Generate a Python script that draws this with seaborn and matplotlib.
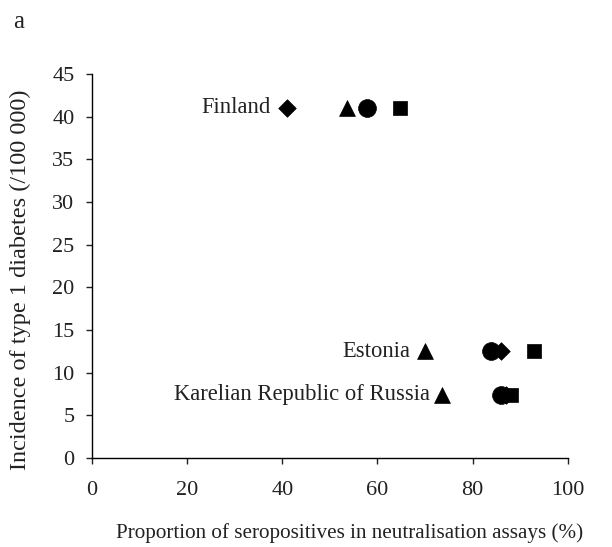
import matplotlib
matplotlib.use("Agg")
import matplotlib.pyplot as plt
import seaborn as sns
import pandas as pd

# Incidence of type 1 diabetes per country and seropositivity by assay
countries = ["Finland", "Estonia", "Karelian Republic of Russia"]
incidence = [41.0, 12.5, 7.4]
assays = ["A", "B", "C", "D"]
assay_markers = {"A": "D", "B": "^", "C": "o", "D": "s"}
seropos = {
    "Finland": [41.0, 53.5, 57.8, 64.8],
    "Estonia": [86.0, 70.0, 83.8, 92.8],
    "Karelian Republic of Russia": [87.0, 73.5, 86.0, 88.0],
}
marker_sizes = {"A": 80, "B": 130, "C": 165, "D": 100}

rows = []
for c, inc in zip(countries, incidence):
    for a, v in zip(assays, seropos[c]):
        rows.append({"country": c, "assay": a, "x": v, "y": inc})
df = pd.DataFrame(rows)

sns.set_theme(style="ticks")
plt.rcParams["font.family"] = ["Liberation Serif", "DejaVu Serif"]
ink = "#222222"

fig = plt.figure(figsize=(6.12, 5.47), dpi=100)
ax = fig.add_axes([0.150, 0.163, 0.778, 0.702])

for a in assays:
    sub = df[df["assay"] == a]
    sns.scatterplot(data=sub, x="x", y="y", marker=assay_markers[a],
                    s=marker_sizes[a], color="black", edgecolor="black",
                    linewidth=0.5, ax=ax, legend=False, zorder=3)

label_x = {"Finland": 37.6, "Estonia": 67.0, "Karelian Republic of Russia": 71.0}
for c, inc in zip(countries, incidence):
    ax.text(label_x[c], inc, c, ha="right", va="center", fontsize=16.3, color=ink)

ax.set_xlim(0, 100)
ax.set_ylim(0, 45)
ax.set_xticks(range(0, 101, 20))
ax.set_yticks(range(0, 46, 5))
ax.tick_params(labelsize=16, direction="out", length=4.5, width=1, colors=ink)
ax.tick_params(axis="x", pad=12)
ax.tick_params(axis="y", pad=8)
ax.set_xlabel("Proportion of seropositives in neutralisation assays (%)", fontsize=15.2,
              color=ink)
ax.set_ylabel("Incidence of type 1 diabetes (/100 000)", fontsize=17.5, color=ink)
ax.xaxis.set_label_coords(0.542, -0.197)
ax.xaxis.label.set_verticalalignment("center")
ax.yaxis.set_label_coords(-0.149, 0.4635)
ax.yaxis.label.set_verticalalignment("center")
for sp in ["top", "right"]:
    ax.spines[sp].set_visible(False)
for sp in ["left", "bottom"]:
    ax.spines[sp].set_color("black")
    ax.spines[sp].set_linewidth(1)

fig.text(0.030, 0.96, "a", fontsize=18, color=ink, ha="center", va="center")

fig.savefig("out.png", dpi=100)
